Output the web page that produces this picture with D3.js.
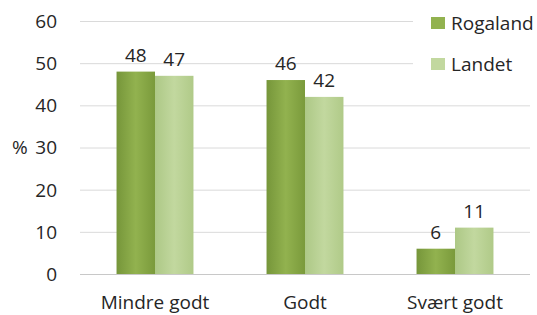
<html lang="no">
<head>
<meta charset="utf-8">
<style>
body { margin: 0; background: #fff; }
text { font-family: "Open Sans", sans-serif; fill: #262626; }
</style>
</head>
<body>
</body>
<script type='text/javascript' src='https://d3js.org/d3.v7.min.js'></script>
<script>
var width = 537, height = 315;

// data
const categories = ['Mindre godt', 'Godt', 'Svært godt'];
const series = ['Rogaland', 'Landet'];
const rogaland = [48, 46, 6];
const landet = [47, 42, 11];
const yTicks = [0, 10, 20, 30, 40, 50, 60];

const values = [rogaland, landet];
const colors = {
  Rogaland: ['#76963a', '#92b24f', '#7a9a3b'],
  Landet: ['#adc886', '#c2d89f', '#b0ca88']
};

var svg = d3.select('body').append('svg').attr('width', width).attr('height', height);

// gradients for the bars
var defs = svg.append('defs');
series.forEach(function(s) {
  var g = defs.append('linearGradient').attr('id', 'grad-' + s)
    .attr('x1', '0%').attr('x2', '100%').attr('y1', '0%').attr('y2', '0%');
  g.append('stop').attr('offset', '0%').attr('stop-color', colors[s][0]);
  g.append('stop').attr('offset', '50%').attr('stop-color', colors[s][1]);
  g.append('stop').attr('offset', '100%').attr('stop-color', colors[s][2]);
});

var x = d3.scaleBand().domain(categories).range([80, 530]).paddingInner(0).paddingOuter(0);
var x1 = d3.scaleBand().domain(series).range([0, x.bandwidth()]).paddingInner(0).paddingOuter(0.95);
var y = d3.scaleLinear().domain([0, 60]).range([274, 21]);

// gridlines
svg.append('g').selectAll('line').data(yTicks).join('line')
  .attr('x1', 80).attr('x2', 530)
  .attr('y1', function(d) { return y(d) + 0.5; })
  .attr('y2', function(d) { return y(d) + 0.5; })
  .attr('stroke', function(d) { return d === 0 ? '#c8c8c8' : '#dadada'; })
  .attr('stroke-width', 1);

// y tick labels
svg.append('g').selectAll('text').data(yTicks).join('text')
  .attr('x', 57).attr('y', function(d) { return y(d); })
  .attr('dy', '0.36em')
  .attr('text-anchor', 'end')
  .style('font-size', '19px')
  .text(function(d) { return d; });

svg.append('text').attr('x', 12).attr('y', y(30)).attr('dy', '0.36em')
  .style('font-size', '19px').text('%');

// bars
var groups = svg.append('g').selectAll('g').data(categories).join('g')
  .attr('transform', function(d) { return 'translate(' + x(d) + ',0)'; });

groups.selectAll('rect')
  .data(function(d, i) { return series.map(function(s, j) { return {s: s, v: values[j][i]}; }); })
  .join('rect')
  .attr('x', function(d) { return x1(d.s); })
  .attr('width', x1.bandwidth())
  .attr('y', function(d) { return y(d.v); })
  .attr('height', function(d) { return y(0) - y(d.v); })
  .attr('fill', function(d) { return 'url(#grad-' + d.s + ')'; });

groups.selectAll('text.val')
  .data(function(d, i) { return series.map(function(s, j) { return {s: s, v: values[j][i]}; }); })
  .join('text').attr('class', 'val')
  .attr('x', function(d) { return x1(d.s) + x1.bandwidth() / 2; })
  .attr('y', function(d) { return y(d.v) - 10; })
  .attr('text-anchor', 'middle')
  .style('font-size', '19px')
  .text(function(d) { return d.v; });

// x axis labels
svg.append('g').selectAll('text').data(categories).join('text')
  .attr('x', function(d) { return x(d) + x.bandwidth() / 2; })
  .attr('y', 309)
  .attr('text-anchor', 'middle')
  .style('font-size', '19px')
  .text(function(d) { return d; });

// legend
var legend = svg.append('g');
legend.append('rect').attr('x', 413).attr('y', 0).attr('width', 124).attr('height', 86).attr('fill', '#fff');
var li = legend.selectAll('g').data(series).join('g')
  .attr('transform', function(d, i) { return 'translate(431,' + (23 + i * 41) + ')'; });
li.append('rect').attr('x', 0).attr('y', -6).attr('width', 14).attr('height', 12)
  .attr('fill', function(d) { return colors[d][1]; });
li.append('text').attr('x', 20).attr('y', 0).attr('dy', '0.36em')
  .style('font-size', '19px')
  .text(function(d) { return d; });
</script>
</html>
